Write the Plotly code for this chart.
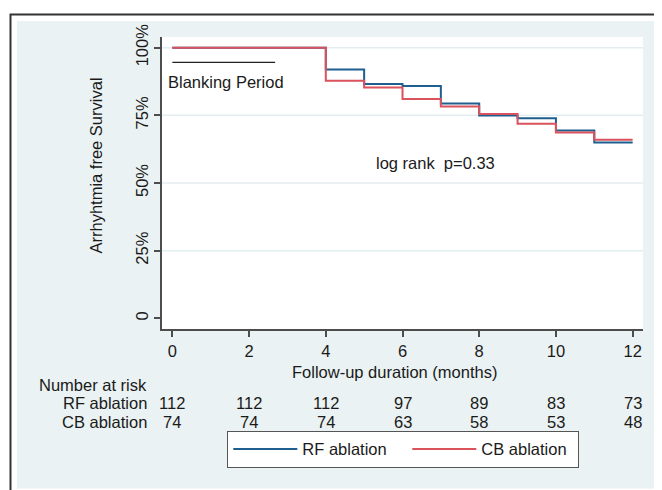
import plotly.graph_objects as go

# ---- data ----
months = [0, 4, 5, 6, 7, 8, 9, 10, 11, 12]
rf_surv = [100, 91.9, 86.6, 85.8, 79.4, 74.9, 73.9, 69.4, 65.0, 65.0]
cb_surv = [100, 87.8, 85.3, 81.0, 78.3, 75.5, 71.9, 68.7, 66.0, 66.0]

risk_times = [0, 2, 4, 6, 8, 10, 12]
rf_risk = [112, 112, 112, 97, 89, 83, 73]
cb_risk = [74, 74, 74, 63, 58, 53, 48]

x_ticks = [0, 2, 4, 6, 8, 10, 12]
y_ticks = [0, 25, 50, 75, 100]
y_ticklabels = ["0", "25%", "50%", "75%", "100%"]
grid_levels = [25, 50, 75, 100]

series_names = ["RF ablation", "CB ablation"]
blanking = [0, 2.68]
blanking_level = 94.6

# ---- styles ----
FONT = "Arial, 'Liberation Sans', sans-serif"
FS = 16.5
TXT = "#1a1a1a"
BLUE = "#1f5f8f"
RED = "#d9525c"
BG = "#eaf2f3"
AX = "#4d4d4d"

fig = go.Figure()
fig.add_trace(go.Scatter(x=months, y=rf_surv, mode="lines", line_shape="hv",
                         line=dict(color=BLUE, width=2), name=series_names[0],
                         legendwidth=100))
fig.add_trace(go.Scatter(x=months, y=cb_surv, mode="lines", line_shape="hv",
                         line=dict(color=RED, width=2), name=series_names[1],
                         legendwidth=92))

# the page body adds an 8px margin, so the figure is drawn 8px smaller
OFF = 8
W, H = 662 - OFF, 490 - OFF
PL, PT, PR, PB = 162, 37, 643, 329          # plot area in page pixels
L, T = PL - OFF, PT - OFF
R, B = 662 - PR, 490 - PB
pw, ph = PR - PL, PB - PT

def px(x):
    return (x - PL) / pw

def py(y):
    return (PB - y) / ph

shapes = [
    # outer frame
    dict(type="rect", xref="paper", yref="paper", x0=px(10.5), x1=px(720),
         y0=py(14.5), y1=py(560), line=dict(color="#333333", width=2),
         fillcolor="white", layer="below"),
    # light background
    dict(type="rect", xref="paper", yref="paper", x0=px(17), x1=px(720),
         y0=py(21), y1=py(488.5), line=dict(width=0), fillcolor=BG, layer="below"),
    # plot region
    dict(type="rect", xref="paper", yref="paper", x0=0, x1=1, y0=0, y1=1,
         line=dict(width=0), fillcolor="white", layer="below"),
]
for g in grid_levels:
    shapes.append(dict(type="line", xref="paper", yref="y", x0=0, x1=1, y0=g, y1=g,
                       line=dict(color="#e3eef0", width=1.5), layer="below"))
shapes.append(dict(type="line", xref="x", yref="y", x0=blanking[0], x1=blanking[1],
                   y0=blanking_level, y1=blanking_level,
                   line=dict(color="#222222", width=1.3)))

def txt(text, x, y, xref, yref, xanchor="center", angle=0):
    return dict(text=text, x=x, y=y, xref=xref, yref=yref, xanchor=xanchor,
                yanchor="middle", textangle=angle, showarrow=False,
                font=dict(size=FS, color=TXT))

annotations = [
    txt("Blanking Period", -0.16, 87.4, "x", "y", "left"),
    txt("log rank\u00a0 p=0.33", 5.26, 57.3, "x", "y", "left"),
    txt("Arrhyhtmia free Survival", px(95), py(165.5), "paper", "paper", angle=-90),
    txt("Follow-up duration (months)", px(394.7), py(371.7), "paper", "paper"),
    txt("Number at risk", px(148.5), py(385), "paper", "paper", "right"),
    txt(series_names[0], px(148.5), py(403.3), "paper", "paper", "right"),
    txt(series_names[1], px(148.5), py(421.7), "paper", "paper", "right"),
]
for t, a, b in zip(risk_times, rf_risk, cb_risk):
    annotations.append(txt(str(a), t, py(403.3), "x", "paper"))
    annotations.append(txt(str(b), t, py(421.7), "x", "paper"))

fig.update_layout(
    width=W, height=H, autosize=False,
    margin=dict(l=L, r=R, t=T, b=B, pad=0),
    paper_bgcolor="white", plot_bgcolor="rgba(0,0,0,0)",
    font=dict(family=FONT, size=FS, color=TXT),
    shapes=shapes, annotations=annotations,
    showlegend=True,
    legend=dict(orientation="h", x=px(227.3), xanchor="left", y=py(430.7),
                yanchor="top", bgcolor="white", bordercolor="#555555",
                borderwidth=1, itemwidth=64,
                font=dict(size=FS, color=TXT)),
    xaxis=dict(range=[-0.27, 12.27], tickvals=x_ticks, showgrid=False,
               zeroline=False, showline=True, linecolor=AX, linewidth=1.5,
               ticks="outside", ticklen=6, tickcolor=AX, tickwidth=1.5,
               tickfont=dict(size=FS, color=TXT)),
    yaxis=dict(range=[-3.95, 103.95], tickvals=y_ticks, ticktext=y_ticklabels,
               tickangle=-90, showgrid=False, zeroline=False, showline=True,
               linecolor=AX, linewidth=1.5, ticks="outside", ticklen=6,
               tickcolor=AX, tickwidth=1.5, tickfont=dict(size=FS, color=TXT)),
)

fig.write_html("out.html")
